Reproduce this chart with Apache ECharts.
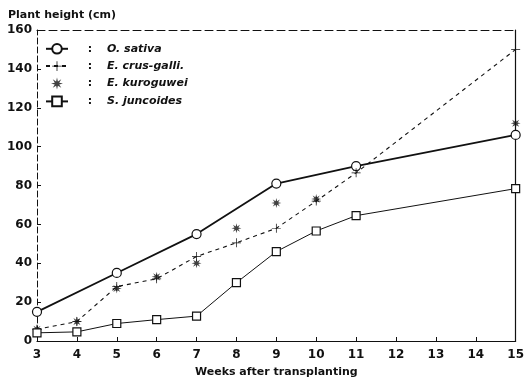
<!DOCTYPE html>
<html>
<head>
<meta charset="utf-8">
<script src="https://cdn.jsdelivr.net/npm/echarts@6/dist/echarts.min.js"></script>
<style>
html,body{margin:0;padding:0;background:#fff;}
#main{width:527px;height:383px;}
</style>
</head>
<body>
<div id="main"></div>
<script>
// weeks after transplanting
var weeks = [3, 4, 5, 6, 7, 8, 9, 10, 11, 15];
var sativaWeeks = [3, 5, 7, 9, 11, 15];
var sativa = [15, 35, 55, 81, 90, 106];
var crusGalli = [6, 10, 28, 32, 43.5, 50.5, 58, 72, 86.5, 150];
var kuroguwei = [6, 10, 27, 33, 40, 58, 71, 73, 89, 112];
var juncoides = [4.2, 4.7, 9, 11, 12.8, 30, 46, 56.6, 64.5, 78.4];
var yTicks = [0, 20, 40, 60, 80, 100, 120, 140, 160];

var ink = '#111';
// asterisk-like burst
var starPath = 'path://M10 0 L11.5 6.3 L17.07 2.93 L13.7 8.5 L20 10 L13.7 11.5 L17.07 17.07 L11.5 13.7 L10 20 L8.5 13.7 L2.93 17.07 L6.3 11.5 L0 10 L6.3 8.5 L2.93 2.93 L8.5 6.3 Z';

function pairs(xs, ys){
	var out = [];
	for (var i = 0; i < xs.length; i++) out.push([xs[i], ys[i]]);
	return out;
}

var myChart = echarts.init(document.getElementById('main'));
var font = 'DejaVu Sans';

var option = {
	animation: false,
	textStyle: {fontFamily: font, color: ink},
	grid: {left: 37, right: 8, top: 30, bottom: 40},
	legend: {
		left: 40, top: 38, orient: 'vertical', itemGap: 6,
		itemWidth: 22, itemHeight: 12,
		data: ['O. sativa', 'E. crus-galli.', 'E. kuroguwei', 'S. juncoides'],
		formatter: function(name){ return '{c|:}{n|' + name + '}'; },
		textStyle: {
			color: ink,
			rich: {
				c: {width: 34, align: 'center', fontSize: 11, fontWeight: 'bold', fontFamily: font},
				n: {fontSize: 11, fontStyle: 'italic', fontWeight: 'bold', fontFamily: font}
			}
		}
	},
	xAxis: [{
		type: 'value', min: 3, max: 15, interval: 1,
		name: 'Weeks after transplanting', nameLocation: 'middle', nameGap: 26,
		nameTextStyle: {fontSize: 11, fontWeight: 'bold', color: ink},
		axisLine: {lineStyle: {color: ink, width: 1.2}},
		axisTick: {inside: true, length: 4, lineStyle: {color: ink}},
		axisLabel: {fontSize: 12, fontWeight: 'bold', color: ink, margin: 8},
		splitLine: {show: false}
	}, {
		type: 'value', min: 3, max: 15, position: 'top',
		axisLine: {onZero: false, lineStyle: {color: ink, width: 1, type: [8, 4]}},
		axisTick: {show: false}, axisLabel: {show: false}, splitLine: {show: false}
	}],
	yAxis: [{
		type: 'value', min: 0, max: 160, interval: 20,
		name: 'Plant height (cm)', nameLocation: 'end', nameGap: 9,
		nameTextStyle: {fontSize: 11, fontWeight: 'bold', color: ink, align: 'left', padding: [0, 0, 0, -29]},
		axisLine: {show: true, onZero: false, lineStyle: {color: ink, width: 1, type: [6, 3]}},
		axisTick: {show: true, inside: true, length: 4, lineStyle: {color: ink}},
		axisLabel: {fontSize: 12, fontWeight: 'bold', color: ink, margin: 5,
			formatter: function(v){ return yTicks.indexOf(v) >= 0 ? String(v) : ''; }},
		splitLine: {show: false}
	}, {
		type: 'value', min: 0, max: 160, position: 'right',
		axisLine: {show: true, onZero: false, lineStyle: {color: ink, width: 1.2}},
		axisTick: {show: false}, axisLabel: {show: false}, splitLine: {show: false}
	}],
	series: [{
		name: 'O. sativa', type: 'line',
		data: pairs(sativaWeeks, sativa),
		symbol: 'circle', symbolSize: 9,
		itemStyle: {color: '#fff', borderColor: ink, borderWidth: 1.2},
		lineStyle: {color: ink, width: 1.8}
	}, {
		name: 'E. crus-galli.', type: 'line',
		data: pairs(weeks, crusGalli),
		symbol: 'path://M9.2 0 L10.8 0 L10.8 9.2 L20 9.2 L20 10.8 L10.8 10.8 L10.8 20 L9.2 20 L9.2 10.8 L0 10.8 L0 9.2 L9.2 9.2 Z',
		symbolSize: 9,
		itemStyle: {color: ink},
		lineStyle: {color: ink, width: 1.1, type: [4, 4]}
	}, {
		name: 'E. kuroguwei', type: 'scatter',
		data: pairs(weeks, kuroguwei),
		symbol: starPath, symbolSize: 10,
		itemStyle: {color: ink}
	}, {
		name: 'S. juncoides', type: 'line',
		data: pairs(weeks, juncoides),
		symbol: 'rect', symbolSize: 8,
		itemStyle: {color: '#fff', borderColor: ink, borderWidth: 1.2},
		lineStyle: {color: ink, width: 1}
	}]
};

myChart.setOption(option);
</script>
</body>
</html>
